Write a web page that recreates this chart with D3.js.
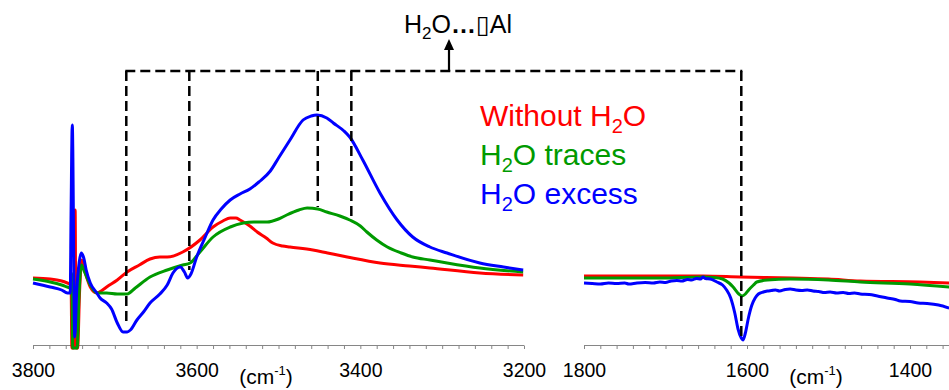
<!DOCTYPE html>
<html><head><meta charset="utf-8">
<script src="https://cdn.jsdelivr.net/npm/d3@7"></script>
<style>
html,body{margin:0;padding:0;background:#fff;}
svg{display:block;font-family:"Liberation Sans",Arial,sans-serif;}
</style></head>
<body><svg id="c" width="949" height="390"></svg>
<script>
// ---------- data (wavenumber cm-1, absorbance a.u.) ----------
const seriesNames = ["Without H2O", "H2O traces", "H2O excess"];
const seriesColors = ["#ff0000", "#009a00", "#0000ff"];

const redLeft = [[3800,0.67],[3779,0.66],[3765,0.64],[3758,0.62],[3755,0.61],[3753.5,0.62],[3752.5,-0.03],[3750,-0.03],[3748.5,1.35],[3747.5,-0.03],[3745.5,-0.03],[3743,0.55],[3740.5,0.85],[3736,0.72],[3730,0.58],[3722,0.52],[3715,0.55],[3710,0.58],[3697,0.65],[3685,0.73],[3670,0.80],[3657,0.86],[3645,0.88],[3636,0.88],[3617,0.93],[3596,1.05],[3580,1.18],[3568,1.24],[3559,1.27],[3552,1.27],[3547,1.25],[3535,1.19],[3526,1.13],[3515,1.07],[3507,1.02],[3495,0.99],[3486,0.98],[3458,0.95],[3440,0.92],[3416,0.88],[3376,0.82],[3340,0.79],[3315,0.77],[3254,0.72],[3201,0.70]];
const greenLeft = [[3800,0.66],[3779,0.63],[3765,0.60],[3758,0.58],[3754.5,0.57],[3753.5,0.72],[3752.5,0.70],[3751.5,-0.03],[3746,-0.03],[3744,0.45],[3741,0.80],[3737,0.73],[3730,0.60],[3722,0.52],[3710,0.52],[3697,0.51],[3685,0.51],[3675,0.57],[3657,0.68],[3636,0.75],[3617,0.80],[3608,0.82],[3596,0.93],[3580,1.08],[3559,1.18],[3543,1.22],[3530,1.23],[3514,1.23],[3500,1.26],[3490,1.30],[3475,1.35],[3465,1.37],[3452,1.36],[3441,1.33],[3425,1.29],[3413,1.25],[3400,1.19],[3392,1.13],[3380,1.05],[3367,0.98],[3350,0.92],[3336,0.88],[3315,0.85],[3294,0.82],[3254,0.77],[3201,0.73]];
const blueLeft = [[3800,0.62],[3779,0.58],[3765,0.55],[3758,0.52],[3754.5,0.52],[3753.5,1.3],[3752,2.2],[3749,0.08],[3746.5,0.55],[3743.5,0.83],[3741,0.92],[3738,0.87],[3735,0.75],[3730,0.62],[3722,0.52],[3718,0.47],[3710,0.42],[3704,0.36],[3697,0.22],[3690,0.13],[3685,0.13],[3681,0.15],[3673,0.25],[3665,0.33],[3657,0.42],[3645,0.51],[3636,0.60],[3629,0.72],[3620,0.78],[3615,0.73],[3611,0.67],[3607,0.71],[3600,0.88],[3590,1.07],[3580,1.25],[3570,1.36],[3559,1.45],[3547,1.51],[3535,1.56],[3524,1.63],[3510,1.74],[3500,1.87],[3486,2.05],[3470,2.25],[3460,2.29],[3453,2.30],[3441,2.27],[3433,2.22],[3420,2.14],[3413,2.08],[3397,1.85],[3376,1.52],[3355,1.25],[3336,1.08],[3315,0.98],[3294,0.92],[3254,0.82],[3225,0.78],[3201,0.75]];

const redRight = [[1800,0.69],[1700,0.69],[1654,0.69],[1608,0.68],[1544,0.67],[1500,0.66],[1461,0.64],[1388,0.63],[1352,0.62]];
const greenRight = [[1800,0.67],[1707,0.67],[1654,0.68],[1640,0.675],[1630,0.66],[1622,0.62],[1617,0.58],[1610,0.51],[1606,0.49],[1602,0.51],[1598,0.55],[1592,0.60],[1588,0.63],[1575,0.65],[1547,0.66],[1500,0.65],[1461,0.63],[1400,0.61],[1352,0.58]];
const blueRight = [[1800,0.62],[1790,0.615],[1780,0.61],[1770,0.62],[1760,0.615],[1750,0.62],[1745,0.61],[1735,0.62],[1725,0.625],[1715,0.62],[1707,0.63],[1700,0.625],[1693,0.64],[1686,0.645],[1680,0.64],[1673,0.655],[1668,0.65],[1662,0.665],[1657,0.66],[1654,0.68],[1651,0.665],[1645,0.66],[1637,0.63],[1630,0.60],[1625,0.55],[1620,0.47],[1615,0.32],[1611,0.16],[1607,0.07],[1605,0.05],[1602,0.12],[1598,0.28],[1594,0.40],[1590,0.47],[1586,0.51],[1580,0.53],[1575,0.54],[1570,0.545],[1565,0.55],[1560,0.54],[1553,0.555],[1547,0.56],[1540,0.55],[1533,0.545],[1526,0.55],[1519,0.54],[1512,0.535],[1505,0.525],[1498,0.53],[1490,0.52],[1482,0.525],[1475,0.515],[1468,0.52],[1461,0.51],[1450,0.505],[1440,0.49],[1428,0.47],[1418,0.455],[1412,0.44],[1400,0.435],[1390,0.42],[1379,0.415],[1365,0.40],[1352,0.37]];

// assignment marks: vertical dashed lines (wavenumber, lower end value)
const markLeftWn = [3686, 3609, 3452, 3411];
const markLeftEnd = [0.23, 0.75, 1.38, 1.28];
const markRightWn = [1607];
const markRightEnd = [0.05];
const bracketLevel = 2.74;

const leftTickLabels = [3800, 3600, 3400, 3200];
const rightTickLabels = [1800, 1600, 1400];

// ---------- scales ----------
const svg = d3.select("#c");
const xL = d3.scaleLinear().domain([3800, 3200]).range([33, 524]);
const xR = d3.scaleLinear().domain([1800, 1400]).range([584, 910]);
const xRend = 1352;
const y = d3.scaleLinear().domain([0, 2.4]).range([345, 105]);
const axisY = y(0);
const axisColor = "#868686";

function drawAxis(xs, lo, hi, labels, unitX) {
  const ticks = d3.range(lo, hi - 0.1, -20);
  const ax = d3.axisBottom(xs).tickValues(ticks).tickSize(4)
    .tickFormat(d => labels.includes(d) ? d : "").tickPadding(14);
  const g = svg.append("g").attr("transform", `translate(0,${axisY})`).call(ax);
  g.select(".domain").remove();
  g.append("line").attr("x1", xs(lo)).attr("x2", xs(hi)).attr("y1", 0.5).attr("y2", 0.5)
    .attr("stroke", axisColor).attr("stroke-width", 1);
  g.selectAll(".tick line").attr("stroke", axisColor).attr("y1", 0.5);
  g.selectAll(".tick text").attr("fill", "#000").attr("font-size", 19.5)
    .attr("font-family", '"Liberation Sans",Arial,sans-serif');
  const u = svg.append("text").attr("x", unitX).attr("y", 384).attr("font-size", 21)
    .attr("text-anchor", "middle").attr("fill", "#000");
  u.append("tspan").text("(cm");
  u.append("tspan").attr("dy", -9).attr("font-size", 13).text("-1");
  u.append("tspan").attr("dy", 9).text(")");
}
drawAxis(xL, 3800, 3200, leftTickLabels, 266);
drawAxis(xR, 1800, xRend, rightTickLabels, 816);

// ---------- spectra ----------
const lineL = d3.line().x(d => xL(d[0])).y(d => y(d[1])).curve(d3.curveMonotoneX);
const lineR = d3.line().x(d => xR(d[0])).y(d => y(d[1])).curve(d3.curveMonotoneX);
const left = [redLeft, greenLeft, blueLeft];
const right = [redRight, greenRight, blueRight];
left.forEach((s, i) => svg.append("path").attr("d", lineL(s)).attr("fill", "none")
  .attr("stroke", seriesColors[i]).attr("stroke-width", 3).attr("stroke-linejoin", "round"));
right.forEach((s, i) => svg.append("path").attr("d", lineR(s)).attr("fill", "none")
  .attr("stroke", seriesColors[i]).attr("stroke-width", 3).attr("stroke-linejoin", "round"));

// ---------- dashed bracket ----------
const dash = "10,5";
const topY = y(bracketLevel);
markLeftWn.forEach((w, i) => svg.append("line").attr("x1", xL(w)).attr("x2", xL(w))
  .attr("y1", topY).attr("y2", y(markLeftEnd[i])).attr("stroke", "#000")
  .attr("stroke-width", 2.5).attr("stroke-dasharray", dash));
markRightWn.forEach((w, i) => svg.append("line").attr("x1", xR(w)).attr("x2", xR(w))
  .attr("y1", topY).attr("y2", y(markRightEnd[i])).attr("stroke", "#000")
  .attr("stroke-width", 2.5).attr("stroke-dasharray", dash));
svg.append("line").attr("x1", xL(markLeftWn[0]) - 1).attr("x2", xR(markRightWn[0]) + 1)
  .attr("y1", topY).attr("y2", topY).attr("stroke", "#000")
  .attr("stroke-width", 2.5).attr("stroke-dasharray", dash);

// arrow
const ax0 = 449;
svg.append("line").attr("x1", ax0).attr("x2", ax0).attr("y1", topY).attr("y2", 46)
  .attr("stroke", "#000").attr("stroke-width", 2.2);
svg.append("path").attr("d", `M${ax0},39 L${ax0 - 5},50 L${ax0 + 5},50 Z`).attr("fill", "#000");

// top label
const t = svg.append("text").attr("x", 404).attr("y", 33).attr("font-size", 25).attr("fill", "#000");
t.append("tspan").text("H");
t.append("tspan").attr("dy", 6).attr("font-size", 17).text("2");
t.append("tspan").attr("dy", -6).text("O");
t.append("tspan").attr("font-weight", "bold").text("…");
t.append("tspan").attr("font-size", 25).attr("font-family", "DejaVu Sans").text("▯");
t.append("tspan").text("Al");

// legend
const legY = [126, 165, 204];
function legend(i, parts) {
  const tx = svg.append("text").attr("x", 480).attr("y", legY[i]).attr("font-size", 30)
    .attr("fill", seriesColors[i]);
  parts.forEach(p => {
    const ts = tx.append("tspan").text(p[0]);
    if (p[1] === "sub") ts.attr("dy", 7).attr("font-size", 20);
    if (p[1] === "up") ts.attr("dy", -7);
  });
}
legend(0, [["Without H"], ["2", "sub"], ["O", "up"]]);
legend(1, [["H"], ["2", "sub"], ["O traces", "up"]]);
legend(2, [["H"], ["2", "sub"], ["O excess", "up"]]);
</script></body></html>
